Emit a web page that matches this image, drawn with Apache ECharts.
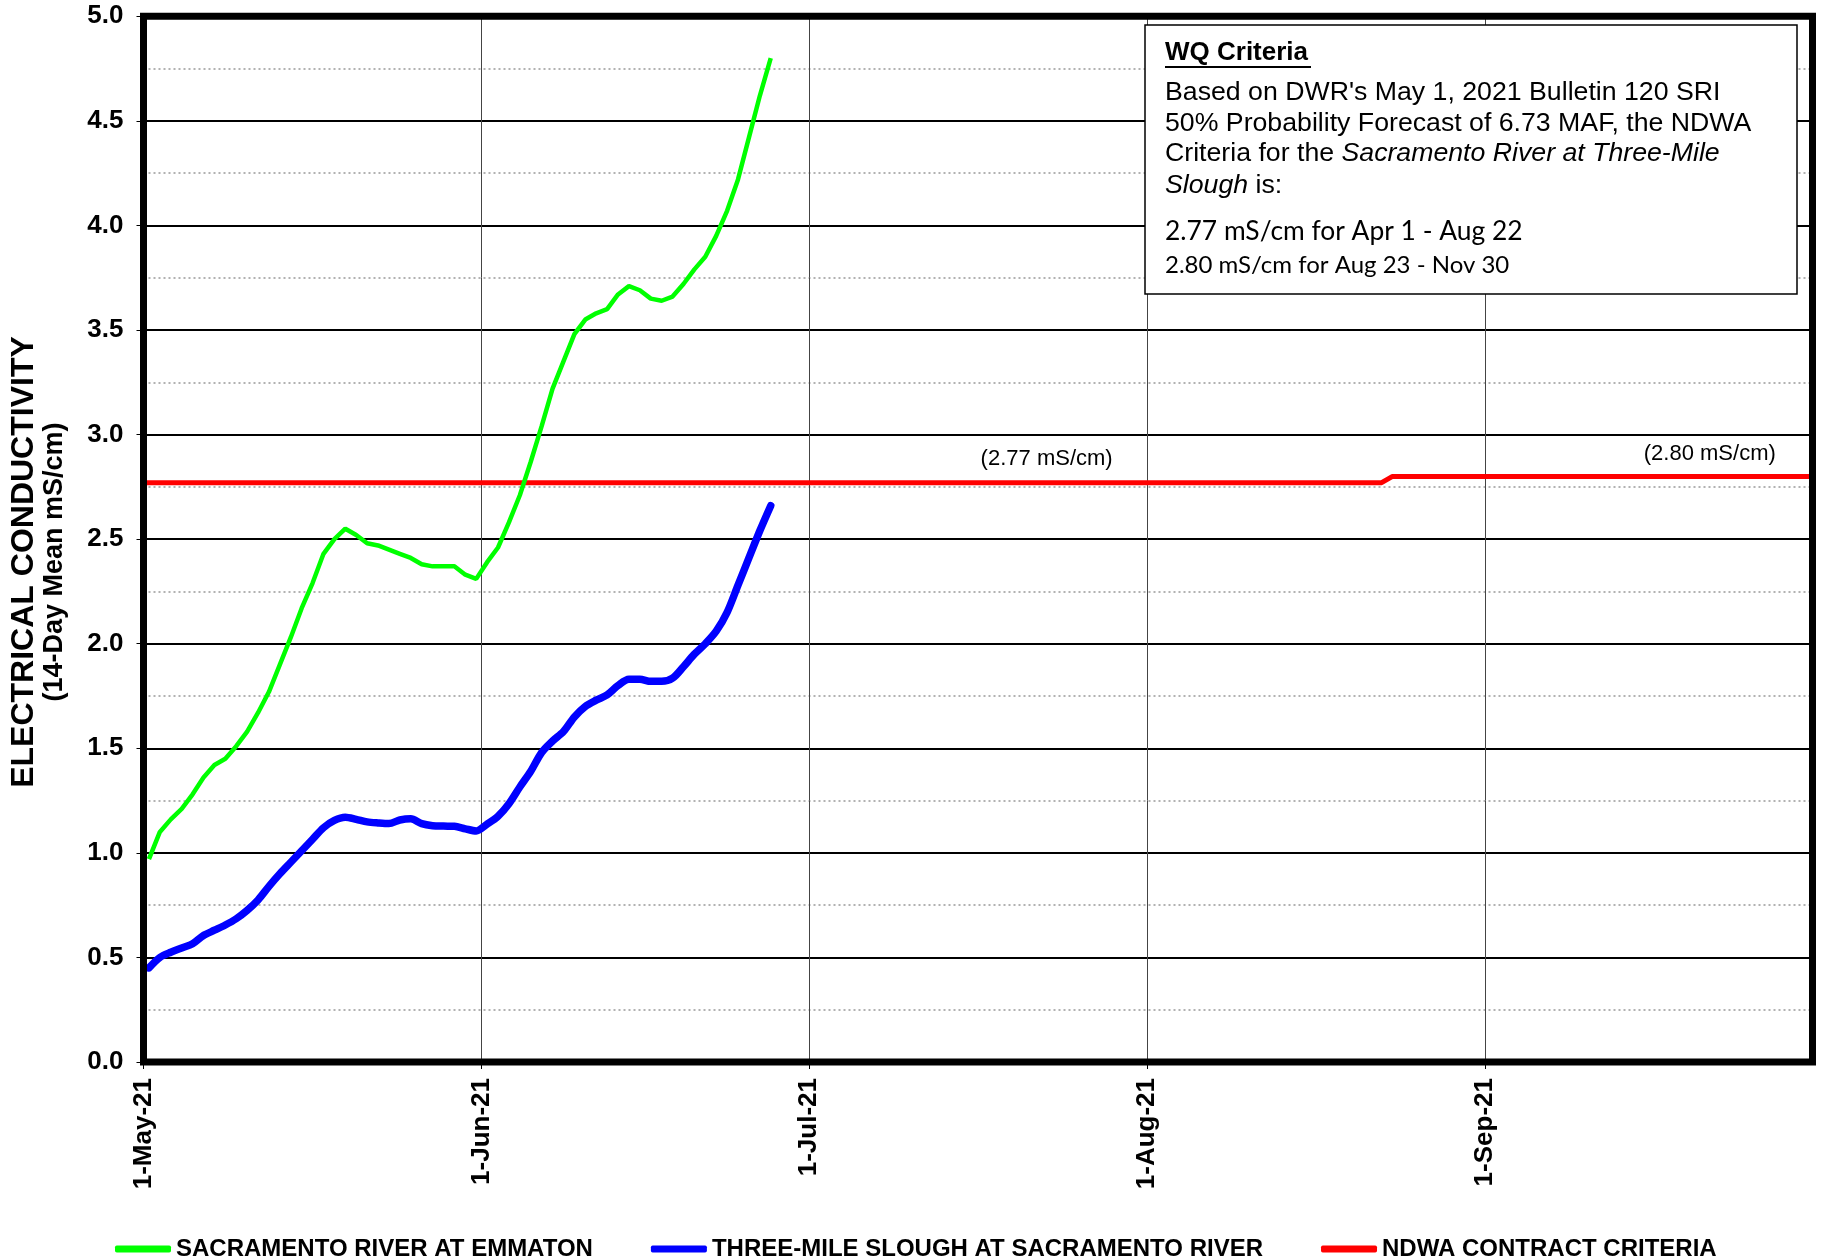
<!DOCTYPE html>
<html><head><meta charset="utf-8">
<script src="https://cdn.jsdelivr.net/npm/echarts@6/dist/echarts.min.js"></script>
<style>html,body{margin:0;padding:0;background:#fff}#c{width:1821px;height:1258px}</style>
</head><body><div id="c"></div><script>
// ---- data (daily 14-day mean EC, mS/cm) ----
const sampleDays = [
 '05-01','05-02','05-03','05-04','05-05','05-06','05-07','05-08','05-09','05-10',
 '05-11','05-12','05-13','05-14','05-15','05-16','05-17','05-18','05-19','05-20',
 '05-21','05-22','05-23','05-24','05-25','05-26','05-27','05-28','05-29','05-30','05-31',
 '06-01','06-02','06-03','06-04','06-05','06-06','06-07','06-08','06-09','06-10',
 '06-11','06-12','06-13','06-14','06-15','06-16','06-17','06-18','06-19','06-20',
 '06-21','06-22','06-23','06-24','06-25','06-26','06-27'];
const emmatonEC = [
 0.97,1.10,1.16,1.21,1.28,1.36,1.42,1.45,1.51,1.58,
 1.67,1.77,1.90,2.03,2.17,2.29,2.43,2.50,2.55,2.52,
 2.48,2.47,2.45,2.43,2.41,2.38,2.37,2.37,2.37,2.33,2.31,
 2.39,2.46,2.58,2.71,2.87,3.04,3.22,3.35,3.48,3.55,
 3.58,3.60,3.67,3.71,3.69,3.65,3.64,3.66,3.72,3.79,
 3.85,3.95,4.07,4.22,4.42,4.62,4.80];
const threeMileEC = [
 0.45,0.50,0.525,0.545,0.565,0.605,0.63,0.655,0.685,0.725,
 0.775,0.84,0.90,0.955,1.01,1.065,1.12,1.155,1.17,1.16,
 1.148,1.143,1.14,1.157,1.163,1.14,1.13,1.128,1.127,1.115,1.105,
 1.137,1.175,1.235,1.315,1.39,1.48,1.535,1.58,1.65,1.70,
 1.73,1.755,1.80,1.83,1.83,1.82,1.82,1.835,1.89,1.95,
 2.00,2.06,2.15,2.28,2.41,2.54,2.66];
const criteriaDates = ['2021-05-01T00','2021-08-22T12','2021-08-23T12','2021-10-01T00'];
const criteriaValues = [2.77, 2.77, 2.80, 2.80];
const criteriaLabels = ['(2.77 mS/cm)', '(2.80 mS/cm)'];
const criteriaLabelDates = ['2021-07-22T19', '2021-09-21T14'];
const criteriaLabelValues = [2.77, 2.80];
const seriesNames = ['SACRAMENTO RIVER AT EMMATON', 'THREE-MILE SLOUGH AT SACRAMENTO RIVER', 'NDWA CONTRACT CRITERIA'];
const yTicks = [0, 5, 0.5];
const axisStart = '2021-05-01T00', axisEnd = '2021-10-01T00';
const monthNames = ['Jan','Feb','Mar','Apr','May','Jun','Jul','Aug','Sep','Oct','Nov','Dec'];

function ts(s){ const [d,h]=s.split('T'); const [y,m,dd]=d.split('-').map(Number); return new Date(y,m-1,dd,h?Number(h):0).getTime(); }
function fmt(v){ const d=new Date(v); return d.getDate()+'-'+monthNames[d.getMonth()]+'-'+String(d.getFullYear()).slice(2); }

const F = "'Liberation Sans', Arial, sans-serif";
const FN = "'Liberation Sans Narrow', 'Arial Narrow', 'Liberation Sans', Arial, sans-serif";
const FC = "Lato, 'Open Sans', sans-serif";

const greenData = sampleDays.map((d,i)=>[ts('2021-'+d+'T12'), emmatonEC[i]]);
const blueData = sampleDays.map((d,i)=>[ts('2021-'+d+'T12'), threeMileEC[i]]);
const redData = criteriaDates.map((d,i)=>[ts(d), criteriaValues[i]]);

const chart = echarts.init(document.getElementById('c'), null, {renderer:'canvas'});
const G = {left:143.5, top:16.3, right:8.5, bottom:196};
const BZ = 120;
const va = {textVerticalAlign:'middle', verticalAlign:'middle'};
chart.setOption({
  animation:false,
  backgroundColor:'#fff',
  grid:{left:G.left, top:G.top, right:G.right, bottom:G.bottom, containLabel:false, show:false},
  xAxis:{
    type:'time', min:ts(axisStart), max:ts(axisEnd),
    minInterval:28*864e5, maxInterval:31*864e5,
    axisLine:{show:false},
    axisTick:{show:true, length:7, lineStyle:{color:'#000', width:1}},
    axisLabel:{rotate:90, formatter:(v)=>fmt(v), fontSize:26, fontWeight:'bold', fontFamily:F, color:'#000', margin:16, showMaxLabel:false, hideOverlap:false},
    splitLine:{show:true, lineStyle:{color:'#444', width:1}}
  },
  yAxis:{
    type:'value', min:yTicks[0], max:yTicks[1], interval:yTicks[2],
    axisLine:{show:false},
    axisTick:{show:true, length:7, lineStyle:{color:'#000', width:1}},
    axisLabel:{formatter:(v)=>v.toFixed(1), fontSize:26, fontWeight:'bold', fontFamily:F, color:'#000', margin:20},
    splitLine:{show:true, lineStyle:{color:'#000', width:2}},
    minorTick:{show:false, splitNumber:2},
    minorSplitLine:{show:true, lineStyle:{color:'#999', width:1.5, type:[2,3]}}
  },
  legend:{
    left:115, top:1237, padding:0, itemWidth:56, itemHeight:7, itemGap:58, icon:'roundRect',
    textStyle:{fontSize:24, fontWeight:'bold', fontFamily:FN, color:'#000'},
    data:seriesNames
  },
  series:[
    {name:seriesNames[0], type:'line', data:greenData, symbol:'none', lineStyle:{color:'#00ff00', width:4.5}, itemStyle:{color:'#00ff00'}, z:3},
    {name:seriesNames[1], type:'line', data:blueData, symbol:'none', smooth:0.3, lineStyle:{color:'#0000ff', width:7.5, cap:'round'}, itemStyle:{color:'#0000ff'}, z:3},
    {name:seriesNames[2], type:'line', data:redData, symbol:'none', lineStyle:{color:'#ff0000', width:5}, itemStyle:{color:'#ff0000'}, z:2,
      markPoint:{symbol:'circle', symbolSize:0, silent:true,
        label:{show:true, position:'inside', formatter:'{b}', color:'#000', fontSize:22, fontFamily:F},
        data:criteriaLabels.map((t,i)=>({name:t, coord:[ts(criteriaLabelDates[i]), criteriaLabelValues[i]], label:{offset:[0, i===0?-24:-22]}}))
      }}
  ],
  graphic:[
    {type:'rect', z:100, silent:true, shape:{x:G.left, y:G.top, width:1821-G.left-G.right, height:1258-G.top-G.bottom}, style:{fill:'none', stroke:'#000', lineWidth:7}},
    {type:'text', z:100, x:24, y:562, rotation:Math.PI/2, style:Object.assign({text:'ELECTRICAL CONDUCTIVITY', fontSize:32, fontWeight:'bold', fontFamily:F, fill:'#000', textAlign:'center', align:'center'}, va)},
    {type:'text', z:100, x:55, y:562, rotation:Math.PI/2, style:Object.assign({text:'(14-Day Mean mS/cm)', fontSize:27, fontWeight:'bold', fontFamily:F, fill:'#000', textAlign:'center', align:'center'}, va)},
    {type:'rect', z:BZ, shape:{x:1145, y:25, width:652, height:269}, style:{fill:'#fff', stroke:'#000', lineWidth:1.5}},
    {type:'text', z:BZ+1, x:1165, y:53, style:Object.assign({text:'WQ Criteria', fontSize:26, fontWeight:'bold', fontFamily:F, fill:'#000'}, va)},
    {type:'line', z:BZ+1, shape:{x1:1165, y1:67, x2:1311, y2:67}, style:{stroke:'#000', lineWidth:2}},
    {type:'text', z:BZ+1, x:1165, y:93, style:Object.assign({text:"Based on DWR's May 1, 2021 Bulletin 120 SRI", fontSize:26.7, fontFamily:F, fill:'#000'}, va)},
    {type:'text', z:BZ+1, x:1165, y:124, style:Object.assign({text:'50% Probability Forecast of 6.73 MAF, the NDWA', fontSize:26.7, fontFamily:F, fill:'#000'}, va)},
    {type:'text', z:BZ+1, x:1165, y:154, style:Object.assign({text:'Criteria for the {i|Sacramento River at Three-Mile}', fontSize:26.7, fontFamily:F, fill:'#000', rich:{i:{fontStyle:'italic', fontSize:26.7, fontFamily:F, fill:'#000'}}}, va)},
    {type:'text', z:BZ+1, x:1165, y:186, style:Object.assign({text:'{i|Slough} is:', fontSize:26.7, fontFamily:F, fill:'#000', rich:{i:{fontStyle:'italic', fontSize:26.7, fontFamily:F, fill:'#000'}}}, va)},
    {type:'text', z:BZ+1, x:1165, y:231, style:Object.assign({text:'2.77 mS/cm for Apr 1 - Aug 22', fontSize:26.4, fontFamily:FC, fill:'#000'}, va)},
    {type:'text', z:BZ+1, x:1165, y:265, style:Object.assign({text:'2.80 mS/cm for Aug 23 - Nov 30', fontSize:24, fontFamily:FC, fill:'#000'}, va)}
  ]
});
</script></body></html>
